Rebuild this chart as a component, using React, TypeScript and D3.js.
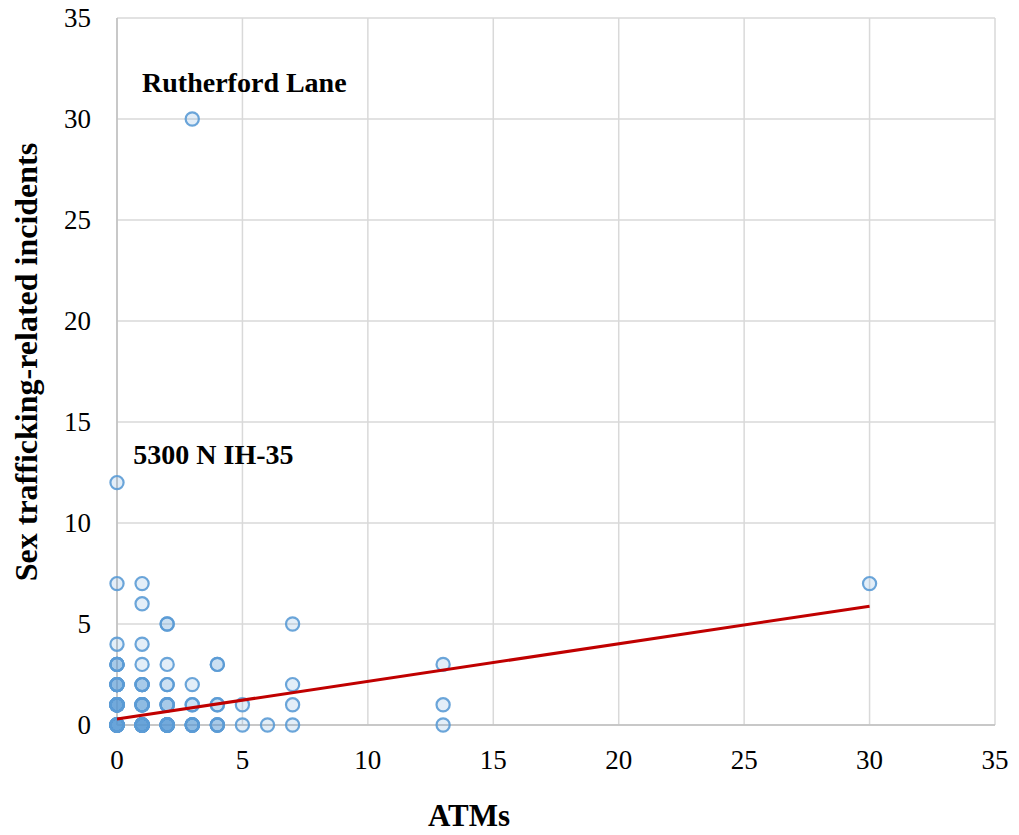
import React from "react";
import * as d3 from "d3";

// [x, y, count] — count = number of overlapping observations
const pointsX = [0, 0, 0, 0, 0, 0, 0, 1, 1, 1, 1, 1, 1, 1, 2, 2, 2, 2, 2, 3, 3, 3, 3, 4, 4, 4, 5, 5, 6, 7, 7, 7, 7, 13, 13, 13, 30];
const pointsY = [12, 7, 4, 3, 2, 1, 0, 7, 6, 4, 3, 2, 1, 0, 5, 3, 2, 1, 0, 30, 2, 1, 0, 3, 1, 0, 1, 0, 0, 5, 2, 1, 0, 3, 1, 0, 7];
const pointsN = [1, 1, 1, 4, 6, 10, 12, 1, 1, 1, 1, 4, 6, 12, 2, 1, 2, 4, 10, 1, 1, 2, 6, 2, 2, 4, 1, 1, 1, 1, 1, 1, 1, 1, 1, 1, 1];
const ticks = [0, 5, 10, 15, 20, 25, 30, 35];
const trendIntercept = 0.3;
const trendSlope = 0.186;
const trendRange = [0, 30];
const annotations = [
  { text: "Rutherford Lane", x: 1, y: 31.8 },
  { text: "5300 N IH-35", x: 0.65, y: 13.4 },
];

export default function App() {
  const W = 1019, H = 835;
  const left = 117, right = 995, top = 18, bottom = 725;
  const x = d3.scaleLinear().domain([0, 35]).range([left, right]);
  const y = d3.scaleLinear().domain([0, 35]).range([bottom, top]);
  const font = "'Liberation Serif', 'Times New Roman', serif";
  const pts: { x: number; y: number; k: string }[] = [];
  pointsX.forEach((px, i) => {
    for (let j = 0; j < pointsN[i]; j++) pts.push({ x: px, y: pointsY[i], k: `${i}-${j}` });
  });
  const line = d3.line<number>().x((d) => x(d)).y((d) => y(trendIntercept + trendSlope * d));
  return (
    <svg width={W} height={H} style={{ position: "absolute", left: 0, top: 0, background: "#fff" }} fontFamily={font}>
      {ticks.map((t) => (
        <line key={"gx" + t} x1={x(t)} x2={x(t)} y1={top} y2={bottom} stroke="#d9d9d9" strokeWidth={1.5} />
      ))}
      {ticks.map((t) => (
        <line key={"gy" + t} x1={left} x2={right} y1={y(t)} y2={y(t)} stroke="#d9d9d9" strokeWidth={1.5} />
      ))}
      <line x1={left} x2={left} y1={top} y2={bottom} stroke="#bfbfbf" strokeWidth={1.5} />
      <line x1={left} x2={right} y1={bottom} y2={bottom} stroke="#bfbfbf" strokeWidth={1.5} />
      {ticks.map((t) => (
        <text key={"ty" + t} x={91} y={y(t)} dy="0.35em" textAnchor="end" fontSize={27} fill="#000">{t}</text>
      ))}
      {ticks.map((t) => (
        <text key={"tx" + t} x={x(t)} y={769} textAnchor="middle" fontSize={27} fill="#000">{t}</text>
      ))}
      {pts.map((p) => (
        <circle key={p.k} cx={x(p.x)} cy={y(p.y)} r={6.6} fill="rgba(91,155,213,0.17)" stroke="#5b9bd5" strokeWidth={2.2} strokeOpacity={0.9} />
      ))}
      <path d={line(trendRange) || ""} stroke="#c00000" strokeWidth={3} fill="none" />
      {annotations.map((a) => (
        <text key={a.text} x={x(a.x)} y={y(a.y)} dy="0.35em" fontSize={28} fontWeight="bold" fill="#000">{a.text}</text>
      ))}
      <text transform={`translate(37,${362}) rotate(-90)`} textAnchor="middle" fontSize={32} fontWeight="bold" fill="#000">
        Sex trafficking-related incidents
      </text>
      <text x={469} y={826} textAnchor="middle" fontSize={31} fontWeight="bold" fill="#000">ATMs</text>
    </svg>
  );
}
